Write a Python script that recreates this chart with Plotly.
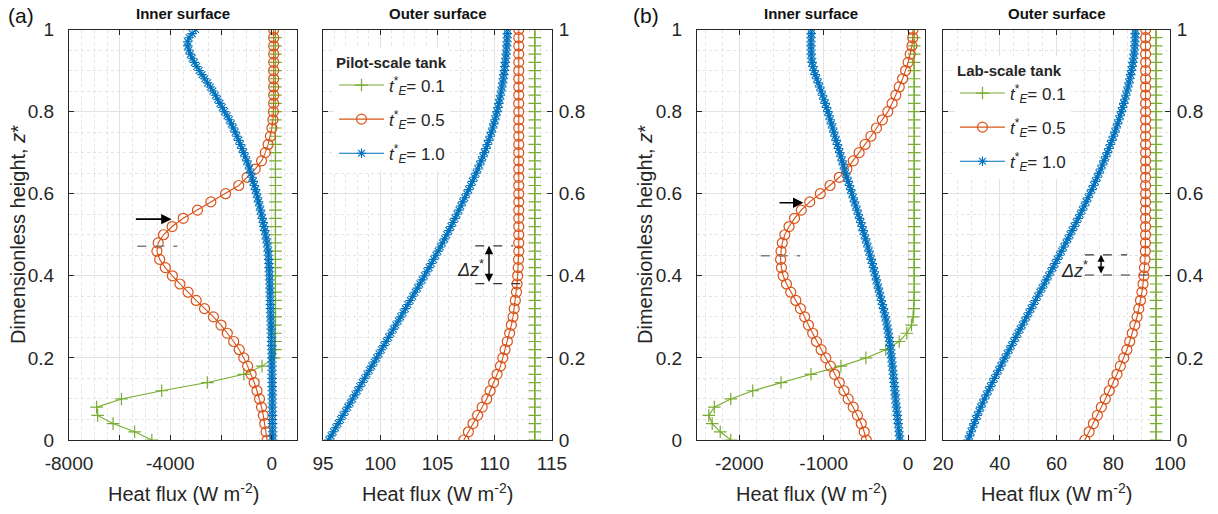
import numpy as np
import plotly.graph_objects as go

W, H = 1218, 514

# Dimensionless height grids: 51 nodes (t*=0.1, 0.5) and 101 nodes (t*=1.0)
z51 = np.round(np.linspace(0, 1, 51), 4)
z101 = np.round(np.linspace(0, 1, 101), 4)

# ---------------- (a) Pilot-scale tank ----------------
a_inner_t01 = [-4730, -5410, -6260, -6870, -6910, -5930, -4340, -2540, -1100, -380,
               100, 150, 150, 150, 150, 150, 150, 150, 150, 150,
               150, 150, 150, 150, 150, 150, 150, 150, 150, 150,
               150, 150, 150, 150, 150, 150, 150, 150, 150, 150,
               150, 150, 150, 150, 150, 150, 150, 150, 150, 150, 150]
a_inner_t05 = [-180, -220, -270, -330, -400, -480, -580, -690, -810, -950,
               -1100, -1280, -1500, -1750, -2000, -2300, -2650, -2980, -3300, -3620,
               -3920, -4200, -4420, -4530, -4480, -4270, -3930, -3490, -2930, -2400,
               -1820, -1300, -970, -650, -400, -250, -140, -50, 10, 50,
               70, 78, 80, 80, 80, 80, 80, 80, 80, 80, 80]
a_inner_t10 = [40, 38, 36, 35, 33, 31, 30, 28, 27, 26,
               25, 24, 22, 21, 20, 18, 17, 15, 13, 11,
               10, 7, 4, 0, -4, -8, -13, -18, -24, -31,
               -38, -42, -46, -50, -55, -60, -64, -69, -74, -79,
               -85, -92, -99, -107, -116, -126, -143, -163, -186, -212,
               -240, -270, -302, -335, -370, -405, -441, -478, -517, -557,
               -598, -640, -684, -730, -777, -826, -876, -928, -981, -1040,
               -1110, -1170, -1235, -1300, -1370, -1440, -1515, -1590, -1670, -1760,
               -1860, -1950, -2040, -2130, -2220, -2320, -2420, -2530, -2640, -2750,
               -2860, -2960, -3050, -3140, -3210, -3270, -3310, -3320, -3260, -3140, -3000]

a_outer_t01 = [113.5, 113.5, 113.5, 113.5, 113.5, 113.5, 113.5, 113.5, 113.5, 113.5,
               113.5, 113.5, 113.5, 113.5, 113.5, 113.5, 113.5, 113.5, 113.5, 113.5,
               113.5, 113.5, 113.5, 113.5, 113.5, 113.5, 113.5, 113.5, 113.5, 113.5,
               113.5, 113.5, 113.5, 113.5, 113.5, 113.5, 113.5, 113.5, 113.5, 113.5,
               113.5, 113.5, 113.5, 113.5, 113.5, 113.5, 113.5, 113.5, 113.5, 113.5, 113.5]
a_outer_t05 = [107.3, 107.7, 108.1, 108.5, 108.9, 109.3, 109.6, 109.9, 110.2, 110.5,
               110.7, 110.9, 111.1, 111.3, 111.45, 111.6, 111.7, 111.8, 111.9, 111.95,
               112.0, 112.05, 112.08, 112.1, 112.1, 112.1, 112.1, 112.1, 112.1, 112.1,
               112.1, 112.1, 112.1, 112.1, 112.1, 112.1, 112.1, 112.1, 112.1, 112.1,
               112.1, 112.1, 112.1, 112.1, 112.1, 112.1, 112.1, 112.1, 112.1, 112.1, 112.1]
a_outer_t10 = [95.50, 95.70, 95.90, 96.11, 96.32, 96.53, 96.74, 96.95, 97.16, 97.37,
               97.58, 97.79, 98.00, 98.21, 98.42, 98.63, 98.84, 99.05, 99.26, 99.47,
               99.68, 99.89, 100.10, 100.31, 100.52, 100.73, 100.94, 101.15, 101.36, 101.57,
               101.78, 101.99, 102.20, 102.41, 102.62, 102.83, 103.04, 103.25, 103.46, 103.66,
               103.86, 104.06, 104.26, 104.46, 104.66, 104.86, 105.05, 105.24, 105.43, 105.62,
               105.81, 105.99, 106.17, 106.35, 106.53, 106.70, 106.87, 107.04, 107.20, 107.38,
               107.55, 107.72, 107.89, 108.05, 108.21, 108.37, 108.52, 108.67, 108.82, 108.96,
               109.10, 109.23, 109.36, 109.48, 109.60, 109.71, 109.82, 109.92, 110.02, 110.11,
               110.20, 110.28, 110.36, 110.43, 110.50, 110.57, 110.63, 110.69, 110.74, 110.79,
               110.84, 110.88, 110.92, 110.96, 110.99, 111.02, 111.05, 111.07, 111.09, 111.10, 111.11]

# ---------------- (b) Lab-scale tank ----------------
b_inner_t01 = [-2100, -2225, -2320, -2360, -2295, -2100, -1840, -1505, -1150, -795,
               -500, -265, -105, -15, 40, 60, 68, 70, 72, 72,
               72, 72, 72, 72, 72, 72, 72, 72, 72, 72,
               72, 72, 72, 72, 72, 72, 72, 72, 72, 72,
               72, 72, 72, 72, 72, 72, 72, 72, 72, 72, 72]
b_inner_t05 = [-495, -520, -555, -600, -650, -710, -760, -815, -870, -920,
               -975, -1030, -1085, -1130, -1180, -1225, -1275, -1330, -1390, -1440,
               -1480, -1500, -1510, -1505, -1490, -1460, -1410, -1345, -1265, -1165,
               -1040, -925, -815, -725, -650, -580, -510, -440, -375, -305,
               -240, -190, -145, -105, -65, -30, 0, 25, 45, 55, 58]
b_inner_t10 = [-98, -103, -108, -113, -118, -123, -128, -133, -138, -143,
               -148, -152, -157, -162, -167, -172, -176, -181, -186, -191,
               -196, -201, -206, -212, -219, -226, -234, -242, -251, -260,
               -270, -281, -292, -304, -316, -328, -340, -352, -364, -376,
               -388, -400, -412, -424, -437, -450, -463, -476, -490, -504,
               -518, -532, -546, -560, -575, -590, -605, -620, -635, -650,
               -665, -680, -695, -710, -725, -740, -754, -768, -782, -796,
               -810, -824, -838, -852, -866, -880, -894, -908, -922, -936,
               -950, -966, -982, -998, -1014, -1030, -1047, -1064, -1082, -1100,
               -1115, -1127, -1137, -1143, -1147, -1149, -1150, -1150, -1149, -1147, -1145]

b_outer_t01 = [95.1, 95.1, 95.1, 95.1, 95.1, 95.1, 95.1, 95.1, 95.1, 95.1,
               95.1, 95.1, 95.1, 95.1, 95.1, 95.1, 95.1, 95.1, 95.1, 95.1,
               95.1, 95.1, 95.1, 95.1, 95.1, 95.1, 95.1, 95.1, 95.1, 95.1,
               95.1, 95.1, 95.1, 95.1, 95.1, 95.1, 95.1, 95.1, 95.1, 95.1,
               95.1, 95.1, 95.1, 95.1, 95.1, 95.1, 95.1, 95.1, 95.1, 95.1, 95.1]
b_outer_t05 = [70.0, 71.5, 73.0, 74.4, 75.8, 77.2, 78.6, 80.0, 81.3, 82.5,
               83.7, 84.8, 85.8, 86.7, 87.6, 88.4, 89.0, 89.6, 90.1, 90.5,
               90.8, 91.0, 91.2, 91.3, 91.35, 91.4, 91.4, 91.4, 91.4, 91.4,
               91.4, 91.4, 91.4, 91.4, 91.4, 91.4, 91.4, 91.4, 91.4, 91.4,
               91.4, 91.4, 91.4, 91.4, 91.4, 91.4, 91.4, 91.4, 91.4, 91.4, 91.4]
b_outer_t10 = [28.90, 29.38, 29.88, 30.40, 30.94, 31.50, 32.08, 32.68, 33.30, 33.94,
               34.60, 35.28, 35.97, 36.67, 37.38, 38.10, 38.83, 39.57, 40.31, 41.06,
               41.82, 42.58, 43.34, 44.10, 44.87, 45.64, 46.41, 47.18, 47.95, 48.72,
               49.49, 50.26, 51.03, 51.80, 52.57, 53.34, 54.11, 54.88, 55.65, 56.42,
               57.19, 57.96, 58.73, 59.50, 60.26, 61.02, 61.78, 62.53, 63.28, 64.02,
               64.76, 65.49, 66.22, 66.94, 67.65, 68.36, 69.06, 69.75, 70.43, 71.10,
               71.77, 72.43, 73.08, 73.72, 74.35, 74.97, 75.58, 76.18, 76.77, 77.35,
               77.92, 78.47, 79.01, 79.54, 80.06, 80.56, 81.05, 81.53, 81.99, 82.44,
               82.88, 83.30, 83.71, 84.10, 84.48, 84.85, 85.20, 85.53, 85.85, 86.15,
               86.43, 86.69, 86.93, 87.14, 87.32, 87.47, 87.59, 87.67, 87.72, 87.74, 87.75]

series_names = ["<i>t</i><sup>*</sup><sub><i>E</i></sub>= 0.1",
                "<i>t</i><sup>*</sup><sub><i>E</i></sub>= 0.5",
                "<i>t</i><sup>*</sup><sub><i>E</i></sub>= 1.0"]
y_ticks = [0, 0.2, 0.4, 0.6, 0.8, 1]
y_ticktext = ["0", "0.2", "0.4", "0.6", "0.8", "1"]
a_inner_ticks = [-8000, -6000, -4000, -2000, 0]
a_inner_ticktext = ["-8000", "", "-4000", "", "0"]
a_outer_ticks = [95, 100, 105, 110, 115]
b_inner_ticks = [-2000, -1000, 0]
b_inner_ticktext = ["-2000", "-1000", "0"]
b_outer_ticks = [20, 40, 60, 80, 100]

GREEN, ORANGE, BLUE = "#77AC30", "#D95319", "#0072BD"
INK = "#262626"
FONT = "Liberation Sans, Arial, Helvetica, sans-serif"


def px(x):
    return x / W


def py(y):
    return 1 - y / H


fig = go.Figure()

styles = [
    dict(color=GREEN, symbol="cross-thin-open", size=9, mlw=1.2, z=z51, group="g1"),
    dict(color=ORANGE, symbol="circle-open", size=10, mlw=1.2, z=z51, group="g2"),
    dict(color=BLUE, symbol="asterisk-open", size=8, mlw=1.1, z=z101, group="g3"),
]

panels = [
    ("x", "y", [a_inner_t01, a_inner_t05, a_inner_t10], "legend", True, "a"),
    ("x2", "y2", [a_outer_t01, a_outer_t05, a_outer_t10], "legend", False, "a"),
    ("x3", "y3", [b_inner_t01, b_inner_t05, b_inner_t10], "legend2", True, "b"),
    ("x4", "y4", [b_outer_t01, b_outer_t05, b_outer_t10], "legend2", False, "b"),
]

for xa, ya, data, leg, show, tank in panels:
    for name, st, vals in zip(series_names, styles, data):
        fig.add_trace(go.Scatter(
            x=vals, y=st["z"], xaxis=xa, yaxis=ya, mode="lines+markers",
            name=name, legend=leg, showlegend=show, legendgroup=tank + st["group"],
            line=dict(color=st["color"], width=1.1),
            marker=dict(symbol=st["symbol"], size=st["size"], color=st["color"],
                        line=dict(color=st["color"], width=st["mlw"])),
        ))


def axis_style(dom, anchor, rng, minor_dtick, **kw):
    d = dict(domain=dom, anchor=anchor, range=rng, showline=True, linecolor=INK,
             linewidth=1, mirror="ticks", ticks="inside", ticklen=5, tickcolor=INK,
             tickwidth=1, showgrid=True, gridcolor="#e2e2e2", gridwidth=1,
             zeroline=False, automargin=False,
             tickfont=dict(family=FONT, size=19, color=INK),
             minor=dict(dtick=minor_dtick, showgrid=True, gridcolor="#e4e4e4",
                        griddash="dot", gridwidth=1, ticks=""))
    d.update(kw)
    return d


ydom = [py(440), py(29.5)]
xdoms = [[px(69), px(297)], [px(323), px(552)], [px(697), px(925)], [px(943), px(1170)]]

fig.update_layout(
    xaxis=axis_style(xdoms[0], "y", [-8000, 1000], 500, tickvals=a_inner_ticks,
                     ticktext=a_inner_ticktext, ticklabelstandoff=6),
    xaxis2=axis_style(xdoms[1], "y2", [95, 115], 1, tickvals=a_outer_ticks,
                      ticklabelstandoff=6),
    xaxis3=axis_style(xdoms[2], "y3", [-2500, 200], 200, tickvals=b_inner_ticks,
                      ticktext=b_inner_ticktext, ticklabelstandoff=6),
    xaxis4=axis_style(xdoms[3], "y4", [20, 100], 5, tickvals=b_outer_ticks,
                      ticklabelstandoff=6),
    yaxis=axis_style(ydom, "x", [0, 1], 0.05, tickvals=y_ticks, ticktext=y_ticktext,
                     side="left", ticklabelstandoff=10),
    yaxis2=axis_style(ydom, "x2", [0, 1], 0.05, tickvals=y_ticks, ticktext=y_ticktext,
                      side="right", ticklabelstandoff=2),
    yaxis3=axis_style(ydom, "x3", [0, 1], 0.05, tickvals=y_ticks, ticktext=y_ticktext,
                      side="left", ticklabelstandoff=10),
    yaxis4=axis_style(ydom, "x4", [0, 1], 0.05, tickvals=y_ticks, ticktext=y_ticktext,
                      side="right", ticklabelstandoff=2),
)

legend_common = dict(bgcolor="white", borderwidth=0, xanchor="left", yanchor="top",
                     font=dict(family=FONT, size=17, color=INK), tracegroupgap=9,
                     itemwidth=45)
fig.update_layout(
    legend=dict(x=px(334), y=py(48),
                title=dict(text="<b>Pilot-scale tank</b>",
                           font=dict(family=FONT, size=15, color=INK)),
                **legend_common),
    legend2=dict(x=px(955), y=py(56),
                 title=dict(text="<b>Lab-scale tank</b>",
                            font=dict(family=FONT, size=15, color=INK)),
                 **legend_common),
)

ann = []
# panel titles
for cx, txt in [(183, "Inner surface"), (437.5, "Outer surface"),
                (811, "Inner surface"), (1056.5, "Outer surface")]:
    ann.append(dict(x=px(cx), y=py(13), xref="paper", yref="paper", text=f"<b>{txt}</b>",
                    showarrow=False, font=dict(family=FONT, size=15, color="#111111"),
                    xanchor="center", yanchor="middle"))
# panel letters
for lx, txt in [(6, "(a)"), (631, "(b)")]:
    ann.append(dict(x=px(lx), y=py(15), xref="paper", yref="paper", text=txt,
                    showarrow=False, font=dict(family=FONT, size=21, color="#111111"),
                    xanchor="left", yanchor="middle"))
# axis titles
for cx in (183, 437.5, 811, 1056.5):
    ann.append(dict(x=px(cx), y=py(492), xref="paper", yref="paper",
                    text="Heat flux (W m<sup>-2</sup>)", showarrow=False,
                    font=dict(family=FONT, size=20, color=INK),
                    xanchor="center", yanchor="middle"))
for cx in (18, 645):
    ann.append(dict(x=px(cx), y=py(235), xref="paper", yref="paper",
                    text="Dimensionless height, <i>z</i>*", showarrow=False, textangle=-90,
                    font=dict(family=FONT, size=20, color=INK),
                    xanchor="center", yanchor="middle"))

# pointer arrows on the inner-surface profiles
ann.append(dict(x=-3950, y=0.538, ax=-5420, ay=0.538, xref="x", yref="y", axref="x",
                ayref="y", text="", showarrow=True, arrowhead=2, arrowsize=1.3,
                arrowwidth=1.6, arrowcolor="black"))
ann.append(dict(x=-1240, y=0.578, ax=-1540, ay=0.578, xref="x3", yref="y3", axref="x3",
                ayref="y3", text="", showarrow=True, arrowhead=2, arrowsize=1.3,
                arrowwidth=1.6, arrowcolor="black"))

# delta-z markers on the outer-surface profiles
ann.append(dict(x=109.5, y=0.473, ax=109.5, ay=0.381, xref="x2", yref="y2", axref="x2",
                ayref="y2", text="", showarrow=True, arrowhead=2, startarrowhead=2,
                arrowside="end+start", arrowsize=1.2, startarrowsize=1.2, arrowwidth=1.4,
                arrowcolor="black"))
ann.append(dict(x=107.9, y=0.418, xref="x2", yref="y2", text="<i>Δz</i><sup>*</sup>",
                showarrow=False, font=dict(family=FONT, size=18, color=INK)))
ann.append(dict(x=75.7, y=0.451, ax=75.7, ay=0.402, xref="x4", yref="y4", axref="x4",
                ayref="y4", text="", showarrow=True, arrowhead=2, startarrowhead=2,
                arrowside="end+start", arrowsize=1.0, startarrowsize=1.0, arrowwidth=1.4,
                arrowcolor="black"))
ann.append(dict(x=66.3, y=0.415, xref="x4", yref="y4", text="<i>Δz</i><sup>*</sup>",
                showarrow=False, font=dict(family=FONT, size=18, color=INK)))

shapes = []
dash_gray = dict(color="#7f7f7f", width=1.5, dash="dash")
dash_dark = dict(color="#333333", width=1.2, dash="dash")
shapes.append(dict(type="line", xref="x", yref="y", x0=-5300, x1=-3720, y0=0.472, y1=0.472,
                   line=dash_gray))
shapes.append(dict(type="line", xref="x3", yref="y3", x0=-1745, x1=-1280, y0=0.449,
                   y1=0.449, line=dash_gray))
shapes.append(dict(type="line", xref="x2", yref="y2", x0=108.3, x1=111.6, y0=0.473,
                   y1=0.473, line=dash_dark))
shapes.append(dict(type="line", xref="x2", yref="y2", x0=108.3, x1=112.8, y0=0.381,
                   y1=0.381, line=dash_dark))
shapes.append(dict(type="line", xref="x4", yref="y4", x0=70.0, x1=84.9, y0=0.451,
                   y1=0.451, line=dash_dark))
shapes.append(dict(type="line", xref="x4", yref="y4", x0=70.0, x1=94.7, y0=0.402,
                   y1=0.402, line=dash_dark))

fig.update_layout(
    annotations=ann, shapes=shapes,
    width=W, height=H, margin=dict(l=0, r=0, t=0, b=0, pad=0, autoexpand=False),
    paper_bgcolor="white", plot_bgcolor="white",
    font=dict(family=FONT, color=INK),
)

fig.write_html("out.html", include_plotlyjs=True, full_html=True,
               config={"displayModeBar": False})
